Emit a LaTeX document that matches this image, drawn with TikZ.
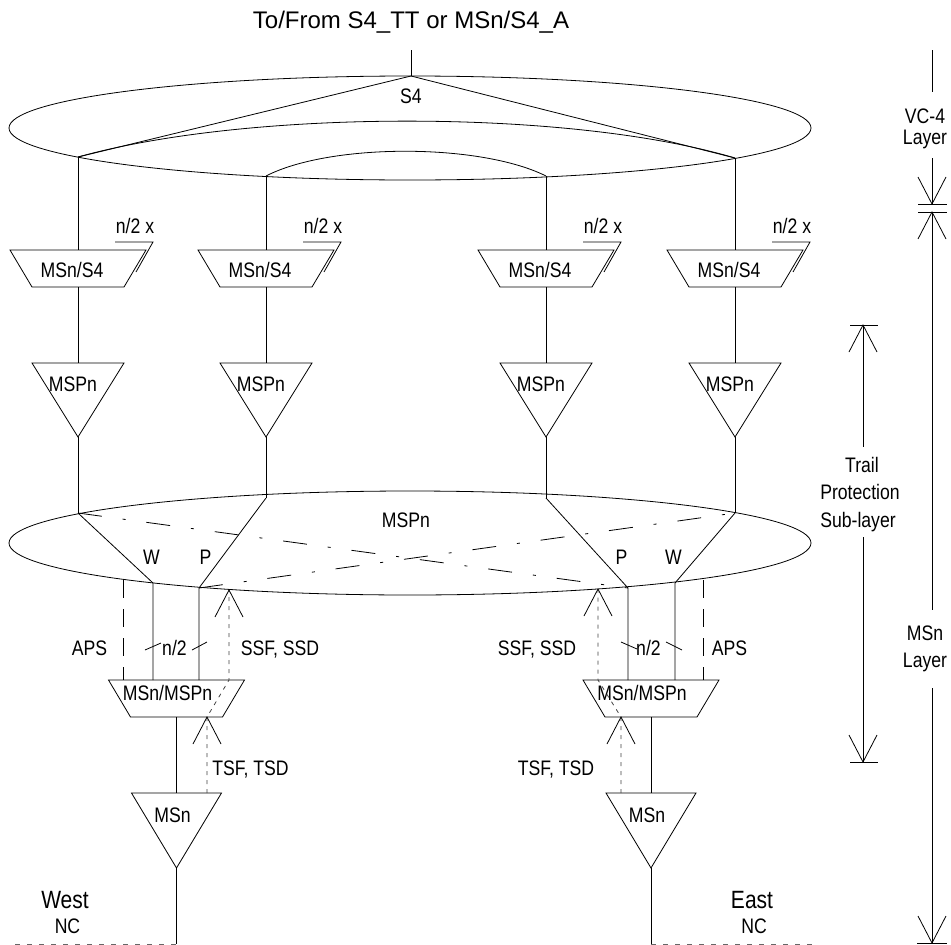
\documentclass[tikz,border=0pt]{standalone}
\usepackage{fontspec}
\setmainfont{Liberation Sans}[FakeStretch=0.84]
\newfontfamily\widefont{Liberation Sans}
\begin{document}
\begin{tikzpicture}[x=1pt,y=-1pt,line width=0.8pt,
  font=\fontsize{21}{23}\selectfont,
  lbl/.style={inner sep=0pt,anchor=center,text height=15pt,text depth=0pt},
  big/.style={lbl,text height=18pt,font=\fontsize{25}{27}\selectfont},
  sigline/.style={dash pattern=on 4pt off 5pt,black!75},
  apsline/.style={dash pattern=on 18pt off 11pt},
  ctlline/.style={dash pattern=on 24pt off 21pt on 3pt off 21pt},
  ncline/.style={dash pattern=on 5pt off 7pt,black!60},
  uphead/.pic={\draw[solid] (-14,27)--(0,0)--(14,27);},
  downhead/.pic={\draw[solid] (-14,-27)--(0,0)--(14,-27);}]
\useasboundingbox (0,0) rectangle (951,945);

% ---------- top ellipse S4
\node[lbl,text height=17pt,font=\widefont\fontsize{24}{26}\selectfont] (toptxt) at (411,20) {To/From S4\_TT or MSn/S4\_A};
\draw (410,128) ellipse [x radius=401, y radius=52];
\coordinate (s4top) at (411,76);
\coordinate (toplead) at (411,50);
\node[lbl] (s4) at (411,96) {S4};
\coordinate (j1) at (78,157);
\coordinate (j2) at (266,176);
\coordinate (j3) at (546,176);
\coordinate (j4) at (735,158);
\draw (toplead) -- (s4top);
\draw (j1) -- (s4top) -- (j4);
\draw (j1) .. controls (250,109) and (570,109) .. (j4);
\draw (j2) .. controls (330,143) and (480,143) .. (j3);

% ---------- columns
\foreach \c/\jj/\lj in {78/j1/513,266/j2/498,546/j3/498,735/j4/513}{
  % MSn/S4 adaptation
  \draw (\jj) -- (\c,250);
  \draw (\c-68,250) -- (\c+68,250) -- (\c+46,287) -- (\c-46,287) -- cycle;
  \node[lbl] at (\c-6,270) {MSn/S4};
  \draw (\c+37,242) -- (\c+75,242) -- (\c+58,272);
  \node[lbl] at (\c+57,226) {n/2 x};
  \draw (\c,287) -- (\c,363);
  % MSPn termination
  \draw (\c-46,363) -- (\c+46,363) -- (\c,437) -- cycle;
  \node[lbl] at (\c-5,383.5) {MSPn};
  \draw (\c,437) -- (\c,\lj);
}

% ---------- MSPn ellipse
\draw (410,543) ellipse [x radius=401, y radius=52];
\node[lbl] (mspn) at (406,520) {MSPn};
\coordinate (k1) at (78,513);
\coordinate (k2) at (266,498);
\coordinate (k3) at (546,498);
\coordinate (k4) at (735,513);
\coordinate (wL) at (153,583);
\coordinate (pL) at (199,588);
\coordinate (pR) at (628,588);
\coordinate (wR) at (675,583);
\draw (k1) -- (wL) -- (153,680);
\draw (k2) -- (pL) -- (199,680);
\draw (k3) -- (pR) -- (628,680);
\draw (k4) -- (wR) -- (675,680);
\node[lbl] at (151.5,557) {W};
\node[lbl] at (205.5,557) {P};
\node[lbl] at (621.5,557) {P};
\node[lbl] at (673.5,557) {W};
\draw[ctlline] (k1) -- (pR);
\draw[ctlline] (pL) -- (k4);

% APS
\draw[apsline] (123,580) -- (123,680);
\draw[apsline] (703,580) -- (703,680);
\node[lbl] at (89.5,647.5) {APS};
\node[lbl] at (729.5,647.5) {APS};

% n/2 slashes
\draw (145,650) -- (161,643);
\draw (192,650) -- (207,642);
\node[lbl] at (174.5,647.5) {n/2};
\draw (621,642) -- (637,649);
\draw (666,642) -- (682,650);
\node[lbl] at (648.5,647.5) {n/2};

% ---------- MSn/MSPn adaptation
\foreach \c in {176.5,651}{
  \draw (\c-68,680) -- (\c+68,680) -- (\c+46,717) -- (\c-46,717) -- cycle;
  \node[lbl] at (\c-9,693) {MSn/MSPn};
  \draw (\c,717) -- (\c,793);
  \draw (\c-45,793) -- (\c+45,793) -- (\c,868) -- cycle;
  \node[lbl] at (\c-4,814.5) {MSn};
  \draw (\c,868) -- (\c,944);
}
\draw[ncline] (15,944) -- (176.5,944);
\draw[ncline] (651,944) -- (812,944);
\node[big] at (65,899) {West};
\node[lbl] at (67.5,925.5) {NC};
\node[big] at (752,899) {East};
\node[lbl] at (754,925.5) {NC};

% signal fail paths
\draw[sigline] (207,793) -- (207,717) -- (229,680) -- (229,590);
\pic at (229,590) {uphead};
\pic at (207,717) {uphead};
\draw[sigline] (621,793) -- (621,717) -- (598,680) -- (598,589);
\pic at (598,589) {uphead};
\pic at (621,717) {uphead};
\node[lbl] at (280,647.5) {SSF, SSD};
\node[lbl] at (537,647.5) {SSF, SSD};
\node[lbl] at (250.5,767.5) {TSF, TSD};
\node[lbl] at (556,767.5) {TSF, TSD};

% ---------- layer scale
\draw (932,50) -- (932,92);
\node[lbl] at (925,116) {VC-4};
\node[lbl] at (925,137) {Layer};
\draw (932,158) -- (932,204);
\pic at (932,204) {downhead};
\draw (918,204) -- (947,204);
\draw (918,212) -- (947,212);
\pic at (932,212) {uphead};
\draw (932,212) -- (932,610);
\node[lbl] at (925,633) {MSn};
\node[lbl] at (925,660) {Layer};
\draw (932,688) -- (932,943);
\pic at (932,943) {downhead};
\draw (917,943) -- (947,943);

\draw (850,325) -- (878,325);
\pic at (863,325) {uphead};
\draw (863,325) -- (863,447);
\node[lbl] at (862,465) {Trail};
\node[lbl] at (860,492) {Protection};
\node[lbl] at (858,520) {Sub-layer};
\draw (863,537) -- (863,762);
\pic at (863,762) {downhead};
\draw (850,762) -- (878,762);
\end{tikzpicture}
\end{document}
